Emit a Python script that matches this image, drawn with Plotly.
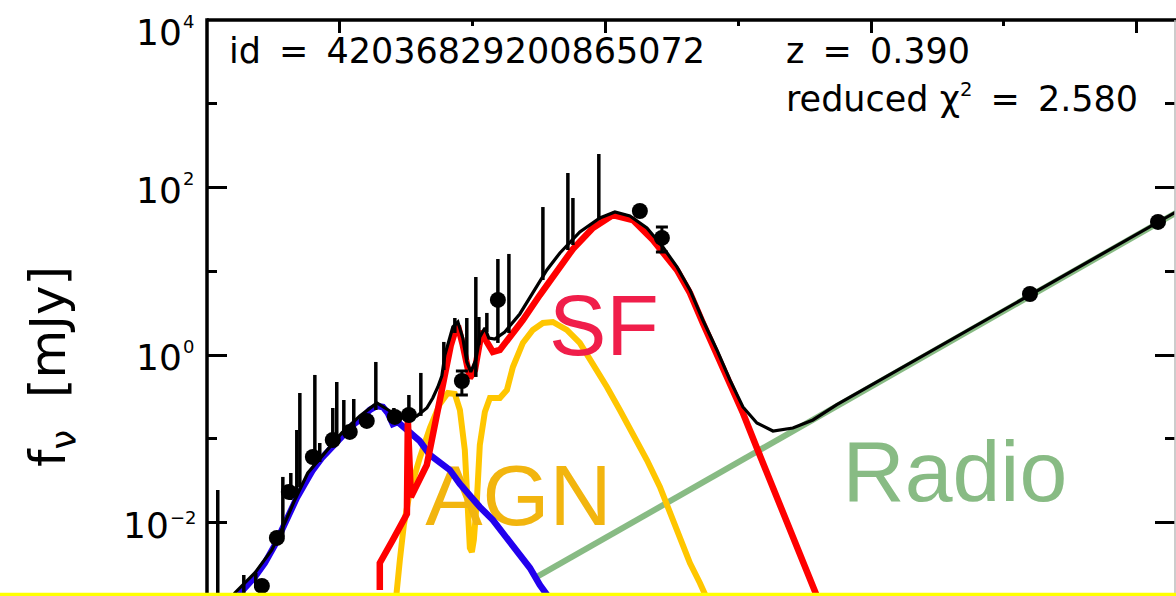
import numpy as np
import plotly.graph_objects as go

# All spectral values are log10 quantities:
#   *_loglam : log10(rest-frame wavelength / micron)
#   *_logf   : log10(f_nu / mJy)

# Photometric detections
phot_loglam = [-0.587, -0.474, -0.384, -0.203, -0.053, 0.075, 0.203, 0.414, 0.520,
               1.190, 2.259, 5.196, 6.160]
phot_logf = [-2.754, -2.181, -1.632, -1.215, -1.012, -0.916, -0.785, -0.737, -0.714,
             0.659, 1.721, 0.730, 1.590]

# Detections with capped error bars
cap_loglam = [0.919, 2.425]
cap_logf = [-0.308, 1.399]
cap_loglo = [-0.475, 1.232]
cap_loghi = [-0.188, 1.530]

# Uncertain bands: plain error bars (lower / upper ends)
bar_loglam = [-0.919, -0.723, -0.633, -0.429, -0.369, -0.324, -0.301, -0.188, -0.151,
              -0.053, -0.023, 0.030, 0.105, 0.271, 0.407, 0.520, 0.610, 0.783, 0.866,
              0.956, 1.024, 1.047, 1.107, 1.190, 1.273, 1.529, 1.717, 1.755, 1.950]
bar_loglo = [-3.2, -2.838, -2.778, -2.169, -1.728, -1.668, -1.573, -1.215, -1.274,
             -1.012, -1.012, -0.916, -0.869, -0.654, -0.749, -0.714, -0.725, -0.177, 0.265,
             -0.057, -0.260, 0.122, 0.277, 0.146, 0.265, 0.897, 1.255, 1.315, 1.613]
bar_loghi = [-1.609, -2.623, -2.599, -1.453, -1.406, -0.893, -0.451, -0.236, -1.048,
             -0.630, -0.320, -0.535, -0.523, -0.081, -0.630, -0.475, -0.212, 0.158, 0.444,
             0.444, 0.933, 0.456, 0.504, 1.148, 1.208, 1.768, 2.174, 1.876, 2.401]

# Stellar component
stellar_loglam = [-0.813, -0.768, -0.730, -0.640, -0.565, -0.489, -0.429, -0.377, -0.324,
                  -0.264, -0.203, -0.136, -0.060, 0.023, 0.098, 0.166, 0.226, 0.279, 0.324,
                  0.361, 0.399, 0.437, 0.474, 0.527, 0.602, 0.678, 0.753, 0.828, 0.904,
                  0.979, 1.054, 1.152, 1.242, 1.355, 1.431, 1.506, 1.566, 1.619]
stellar_logf = [-2.993, -2.874, -2.802, -2.647, -2.480, -2.265, -2.050, -1.847, -1.704,
                -1.537, -1.370, -1.227, -1.095, -0.940, -0.833, -0.749, -0.654, -0.606, -0.618,
                -0.690, -0.821, -0.797, -0.845, -0.928, -1.024, -1.191, -1.274, -1.370, -1.537,
                -1.680, -1.811, -1.967, -2.146, -2.360, -2.539, -2.742, -2.874, -3.040]

# Star-forming dust component
sf_loglam = [0.301, 0.301, 0.399, 0.505, 0.512, 0.535, 0.655, 0.700, 0.730, 0.753,
             0.783, 0.806, 0.836, 0.866, 0.889, 0.926, 0.956, 0.979, 1.017, 1.039,
             1.069, 1.107, 1.152, 1.205, 1.280, 1.378, 1.506, 1.604, 1.755, 1.905,
             2.056, 2.206, 2.357, 2.538, 2.636, 2.733, 2.839, 2.937, 3.035, 3.140,
             3.245, 3.358, 3.464, 3.577, 3.622]
sf_logf = [-2.802, -2.480, -2.205, -1.895, -0.773, -1.692, -1.310, -0.952, -0.654, -0.475,
           -0.272, -0.117, 0.122, 0.277, 0.349, 0.122, -0.153, -0.272, -0.177, 0.062,
           0.289, 0.158, 0.038, 0.062, 0.205, 0.420, 0.718, 0.945, 1.267, 1.518,
           1.673, 1.613, 1.375, 1.017, 0.742, 0.384, 0.014, -0.344, -0.690, -1.107,
           -1.525, -1.943, -2.348, -2.802, -2.993]

# AGN torus component
agn_loglam = [0.422, 0.429, 0.452, 0.482, 0.527, 0.602, 0.678, 0.753, 0.813, 0.866,
              0.904, 0.941, 0.964, 0.979, 0.994, 1.009, 1.032, 1.054, 1.092, 1.130,
              1.205, 1.258, 1.303, 1.378, 1.453, 1.529, 1.604, 1.709, 1.807, 1.905,
              2.011, 2.108, 2.206, 2.312, 2.410, 2.485, 2.560, 2.636, 2.711, 2.748, 2.779]
agn_logf = [-2.921, -2.838, -2.444, -2.026, -1.632, -1.227, -0.869, -0.582, -0.451, -0.463,
            -0.654, -1.131, -1.728, -2.301, -2.348, -2.205, -1.728, -1.072, -0.678, -0.511,
            -0.511, -0.415, -0.141, 0.146, 0.301, 0.384, 0.396, 0.301, 0.146, -0.093,
            -0.379, -0.654, -0.928, -1.251, -1.573, -1.883, -2.205, -2.480, -2.718, -2.838, -2.957]

# Radio power law
radio_loglam = [1.483, 3.991, 6.400]
radio_logf = [-2.647, -0.382, 1.793]

# Total model
total_loglam = [-0.806, -0.791, -0.640, -0.512, -0.414, -0.339, -0.241, -0.113, 0.015, 0.151,
                0.279, 0.377, 0.452, 0.527, 0.580, 0.655, 0.700, 0.738, 0.768, 0.791,
                0.821, 0.851, 0.889, 0.926, 0.956, 0.986, 1.024, 1.054, 1.092, 1.122,
                1.167, 1.242, 1.355, 1.453, 1.559, 1.657, 1.807, 1.958, 2.071, 2.184,
                2.312, 2.432, 2.538, 2.636, 2.733, 2.839, 2.937, 3.035, 3.140, 3.261,
                3.411, 3.562, 3.742, 3.991, 6.400]
total_logf = [-2.921, -2.838, -2.599, -2.324, -2.002, -1.728, -1.406, -1.167, -0.928, -0.725,
              -0.570, -0.666, -0.749, -0.749, -0.725, -0.630, -0.511, -0.379, -0.248, 0.002,
              0.181, 0.337, 0.396, 0.205, -0.081, -0.200, -0.057, 0.217, 0.325, 0.205,
              0.193, 0.277, 0.492, 0.742, 1.017, 1.220, 1.470, 1.637, 1.709, 1.661,
              1.518, 1.291, 1.053, 0.778, 0.420, 0.062, -0.296, -0.618, -0.809, -0.905,
              -0.869, -0.773, -0.590, -0.367, 1.804]

# Axis decorations
ytick_exps = [-2, 0, 2, 4]
ytick_exp_text = ["\u22122", "0", "2", "4"]
yminor_vals = [1e-1, 1e1, 1e3]
xtick_vals = [1e0, 1e2, 1e4, 1e6]
xminor_vals = [1e1, 1e3, 1e5]

X_RANGE = [-1.0, 6.288]
Y_RANGE = [-2.874, 4.0]
PLOT_W = 968  # plot-area width in px (for paper-coordinate offsets)
PLOT_H = 576


def lin(v):
    return 10.0 ** np.asarray(v, dtype=float)


fig = go.Figure()


def add_line(loglam, logf, color, width):
    fig.add_trace(go.Scatter(x=lin(loglam), y=lin(logf), mode="lines",
                             line=dict(color=color, width=width),
                             hoverinfo="skip", showlegend=False))


def add_label(text, lx, ly, color):
    fig.add_trace(go.Scatter(x=[10 ** lx], y=[10 ** ly], mode="text", text=[text],
                             textposition="middle center",
                             textfont=dict(family="Liberation Sans", size=86, color=color),
                             hoverinfo="skip", showlegend=False))


add_line(radio_loglam, radio_logf, "#88BB84", 6)
add_line(agn_loglam, agn_logf, "#FFC600", 6)
add_label("AGN", 1.344, -1.770, "#F2B50F")
add_line(stellar_loglam, stellar_logf, "#2200EE", 6.5)
add_line(sf_loglam, sf_logf, "#FF0000", 6.5)
add_line(total_loglam, total_logf, "#000000", 3.2)
add_label("SF", 1.988, 0.259, "#F01E4A")
add_label("Radio", 4.631, -1.483, "#88BB84")

# plain error bars
seg_x, seg_y = [], []
for l, lo, hi in zip(bar_loglam, bar_loglo, bar_loghi):
    seg_x += [10 ** l, 10 ** l, None]
    seg_y += [10 ** lo, 10 ** hi, None]
fig.add_trace(go.Scatter(x=seg_x, y=seg_y, mode="lines",
                         line=dict(color="black", width=3.5),
                         hoverinfo="skip", showlegend=False))

# capped detections
cf = lin(cap_logf)
fig.add_trace(go.Scatter(
    x=lin(cap_loglam), y=cf, mode="markers",
    marker=dict(color="black", size=16),
    error_y=dict(type="data", symmetric=False,
                 array=lin(cap_loghi) - cf, arrayminus=cf - lin(cap_loglo),
                 color="black", thickness=3, width=6),
    hoverinfo="skip", showlegend=False))

# detections
fig.add_trace(go.Scatter(x=lin(phot_loglam), y=lin(phot_logf), mode="markers",
                         marker=dict(color="black", size=16),
                         hoverinfo="skip", showlegend=False))

fig.update_layout(
    width=1176, height=596,
    margin=dict(l=207, r=1, t=20, b=0),
    paper_bgcolor="white", plot_bgcolor="white",
    showlegend=False,
    xaxis=dict(type="log", range=X_RANGE, side="top", showgrid=False, zeroline=False,
               showline=False, showticklabels=False,
               tickmode="array", tickvals=xtick_vals,
               ticks="inside", ticklen=13, tickwidth=3, tickcolor="black",
               minor=dict(tickmode="array", tickvals=xminor_vals, ticks="inside",
                          ticklen=6, tickwidth=3, tickcolor="black", showgrid=False)),
    yaxis=dict(type="log", range=Y_RANGE, showgrid=False, zeroline=False,
               showline=False, mirror="ticks", showticklabels=False,
               tickmode="array", tickvals=[10.0 ** e for e in ytick_exps],
               ticks="inside", ticklen=20, tickwidth=3, tickcolor="black",
               minor=dict(tickmode="array", tickvals=yminor_vals, ticks="inside",
                          ticklen=10, tickwidth=3, tickcolor="black", showgrid=False)),
)

# frame
fig.add_shape(type="line", xref="paper", yref="paper", x0=0, x1=0, y0=0, y1=1.003,
              line=dict(color="black", width=3.5))
fig.add_shape(type="line", xref="paper", yref="paper", x0=0, x1=1.01, y0=1, y1=1,
              line=dict(color="black", width=3.5))
fig.add_shape(type="line", xref="paper", yref="paper", x0=1, x1=1, y0=0, y1=1,
              line=dict(color="#BBBBBB", width=1.5))
# highlight strip along the lower edge
fig.add_shape(type="rect", xref="paper", yref="paper",
              x0=-207 / PLOT_W, x1=1 + 1 / PLOT_W, y0=0, y1=3.2 / PLOT_H,
              line=dict(width=0), fillcolor="#FFFF00", layer="above")

# decade labels "10^n" on the left axis
tick_font = dict(family="DejaVu Sans", size=36, color="black")
exp_font = dict(family="DejaVu Sans", size=18, color="black")
for e, etxt in zip(ytick_exps, ytick_exp_text):
    base_right = -24.5 if e >= 0 else -37.5      # px left of the frame
    base_shift = -12.5 if e == 4 else -2.5       # px relative to the tick
    exp_shift = 11.5 if e != -2 else 8
    fig.add_annotation(text="10", xref="paper", yref="y",
                       x=base_right / PLOT_W, y=e, xanchor="right", yanchor="middle",
                       yshift=base_shift, borderpad=0, showarrow=False, font=tick_font)
    fig.add_annotation(text=etxt, xref="paper", yref="y",
                       x=(base_right - 1) / PLOT_W, y=e, xanchor="left", yanchor="middle",
                       yshift=base_shift + exp_shift, borderpad=0, showarrow=False,
                       font=exp_font)

txt_font = dict(family="DejaVu Sans", size=35, color="black")
TS = "\u2009"
fig.add_annotation(text=f"id {TS}={TS} 42036829200865072", xref="paper", yref="paper",
                   x=0.0207, y=0.9464, xanchor="left", yanchor="middle",
                   showarrow=False, font=txt_font)
fig.add_annotation(text=f"z {TS}={TS} 0.390", xref="paper", yref="paper",
                   x=0.596, y=0.9464, xanchor="left", yanchor="middle",
                   showarrow=False, font=txt_font)
fig.add_annotation(text=f"reduced \u03c7<sup><span style='font-size:80%'>2</span></sup> {TS}={TS} 2.580",
                   xref="paper", yref="paper",
                   x=0.596, y=0.863, xanchor="left", yanchor="middle",
                   showarrow=False, font=txt_font)
fig.add_annotation(text="f<sub>\u03bd</sub>\u00a0 [mJy]", xref="paper", yref="paper",
                   x=-0.1601, y=0.3976, xanchor="center", yanchor="middle",
                   textangle=-90, showarrow=False,
                   font=dict(family="DejaVu Sans", size=50, color="black"))

fig.write_html("out.html")
